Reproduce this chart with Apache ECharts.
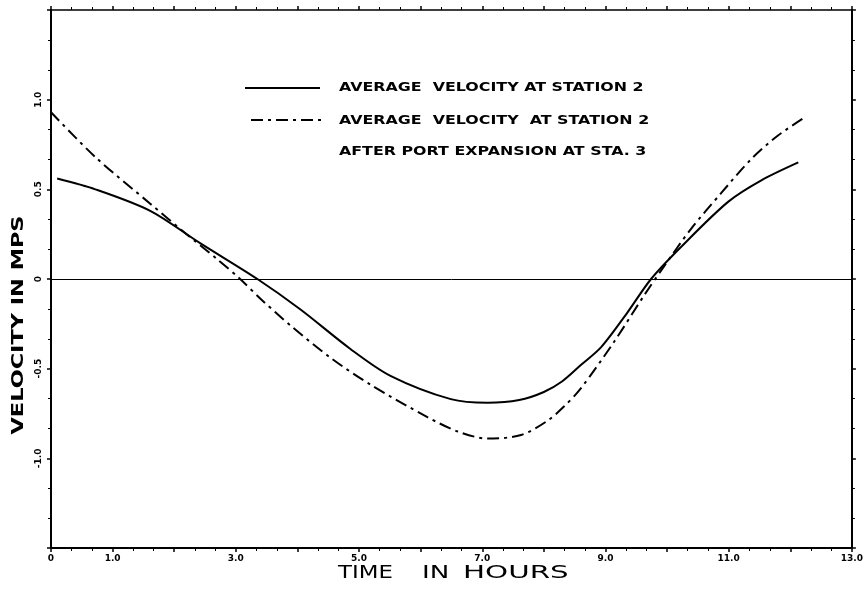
<!DOCTYPE html>
<html><head><meta charset="utf-8">
<script src="https://cdn.jsdelivr.net/npm/echarts@6/dist/echarts.min.js"></script>
<style>html,body{margin:0;padding:0;background:#fff}#c{width:866px;height:596px}</style>
</head><body><div id="c"></div>
<script>
const solidName = 'AVERAGE  VELOCITY AT STATION 2';
const dashName = 'AVERAGE  VELOCITY  AT STATION 2';
const dashNote = 'AFTER PORT EXPANSION AT STA. 3';
const xTitleWords = ['TIME', 'IN', 'HOURS'];
const yTitle = 'VELOCITY IN MPS';

const solidX = [0.1, 0.72, 1.61, 2.42, 3.35, 4.05, 4.86, 5.51, 6.49, 7.09, 7.6, 8.0, 8.3, 8.6, 8.93, 9.35, 9.74, 10.23, 10.99, 11.53, 12.13];
const solidY = [0.56, 0.5, 0.38, 0.2, 0, -0.17, -0.39, -0.54, -0.67, -0.69, -0.675, -0.63, -0.57, -0.48, -0.38, -0.19, 0, 0.18, 0.43, 0.55, 0.65];
const dashX = [0, 0.72, 1.61, 2.2, 2.7, 3.07, 3.4, 3.89, 4.54, 5.19, 6.11, 6.6, 7.09, 7.63, 8.06, 8.33, 8.6, 9.14, 9.63, 9.95, 10.39, 10.88, 11.37, 11.8, 12.23];
const dashY = [0.93, 0.68, 0.42, 0.25, 0.11, 0, -0.11, -0.26, -0.44, -0.59, -0.77, -0.85, -0.89, -0.87, -0.79, -0.71, -0.61, -0.35, -0.09, 0.07, 0.28, 0.48, 0.67, 0.8, 0.9];

const xLabelValues = [0, 1, 3, 5, 7, 9, 11, 13];
const yLabelValues = [1, 0.5, 0, -0.5, -1];

const zip = (xs, ys) => xs.map((x, i) => [x, ys[i]]);
const F = 'DejaVu Sans';
const chart = echarts.init(document.getElementById('c'));
const tick = {show: true, length: 4, lineStyle: {color: '#000', width: 1.5}};
const minor = {show: true, splitNumber: 3, length: 3, lineStyle: {color: '#000', width: 1}};
const legendFont = 'bold 13px "DejaVu Sans"';
const titleFont = '18px "DejaVu Sans"';
chart.setOption({
  animation: false,
  backgroundColor: '#fff',
  grid: {left: 51, right: 11, top: 10, bottom: 48},
  graphic: [
    {type: 'line', shape: {x1: 245, y1: 88, x2: 320, y2: 88}, style: {stroke: '#000', lineWidth: 2}},
    {type: 'line', shape: {x1: 251, y1: 120, x2: 322, y2: 120}, style: {stroke: '#000', lineWidth: 2, lineDash: [12, 5, 3, 5]}},
    {type: 'text', x: 339, y: 88, scaleX: 1.22, style: {text: solidName, fill: '#000', font: legendFont, verticalAlign: 'middle'}},
    {type: 'text', x: 339, y: 121, scaleX: 1.22, style: {text: dashName, fill: '#000', font: legendFont, verticalAlign: 'middle'}},
    {type: 'text', x: 339, y: 152, scaleX: 1.22, style: {text: dashNote, fill: '#000', font: legendFont, verticalAlign: 'middle'}},
    {type: 'text', x: 338, y: 573, scaleX: 1.27, style: {text: xTitleWords[0], fill: '#000', font: titleFont, verticalAlign: 'middle'}},
    {type: 'text', x: 422, y: 573, scaleX: 1.45, style: {text: xTitleWords[1], fill: '#000', font: titleFont, verticalAlign: 'middle'}},
    {type: 'text', x: 463, y: 573, scaleX: 1.63, style: {text: xTitleWords[2], fill: '#000', font: titleFont, verticalAlign: 'middle'}},
    {type: 'text', x: 19, y: 325, rotation: Math.PI / 2, scaleX: 1.4, style: {text: yTitle, fill: '#000', font: 'bold 16px "DejaVu Sans"', align: 'center', verticalAlign: 'middle'}}
  ],
  xAxis: [{
    type: 'value', min: 0, max: 13, interval: 1,
    axisLine: {show: true, onZero: false, lineStyle: {color: '#000', width: 2}},
    axisTick: tick, minorTick: minor,
    splitLine: {show: false},
    axisLabel: {color: '#000', fontFamily: F, fontWeight: 'bold', fontSize: 9, margin: 6,
      formatter: v => xLabelValues.indexOf(v) < 0 ? '' : (v === 0 ? '0' : v.toFixed(1))}
  }, {
    type: 'value', min: 0, max: 13, interval: 1, position: 'top',
    axisLine: {show: true, onZero: false, lineStyle: {color: '#000', width: 1.5}},
    axisTick: tick, minorTick: minor,
    splitLine: {show: false}, axisLabel: {show: false}
  }],
  yAxis: [{
    type: 'value', min: -1.5, max: 1.5, interval: 0.5,
    axisLine: {show: true, onZero: false, lineStyle: {color: '#000', width: 2}},
    axisTick: tick, minorTick: minor,
    splitLine: {show: false},
    axisLabel: {color: '#000', fontFamily: F, fontWeight: 'bold', fontSize: 9, rotate: 90, margin: 8,
      formatter: v => yLabelValues.indexOf(v) < 0 ? '' : (v === 0 ? '0' : v.toFixed(1))}
  }, {
    type: 'value', min: -1.5, max: 1.5, interval: 0.5, position: 'right',
    axisLine: {show: true, onZero: false, lineStyle: {color: '#000', width: 2}},
    axisTick: tick, minorTick: minor,
    splitLine: {show: false}, axisLabel: {show: false}
  }],
  series: [{
    name: solidName, type: 'line', data: zip(solidX, solidY), smooth: 0.3, symbol: 'none',
    lineStyle: {color: '#000', width: 2}, itemStyle: {color: '#000'},
    markLine: {silent: true, symbol: 'none', label: {show: false},
      lineStyle: {color: '#000', width: 1, type: 'solid'}, data: [{yAxis: 0}]}
  }, {
    name: dashName, type: 'line', data: zip(dashX, dashY), smooth: 0.3, symbol: 'none',
    lineStyle: {color: '#000', width: 2, type: [12, 5, 3, 5]}, itemStyle: {color: '#000'}
  }]
});
</script></body></html>
